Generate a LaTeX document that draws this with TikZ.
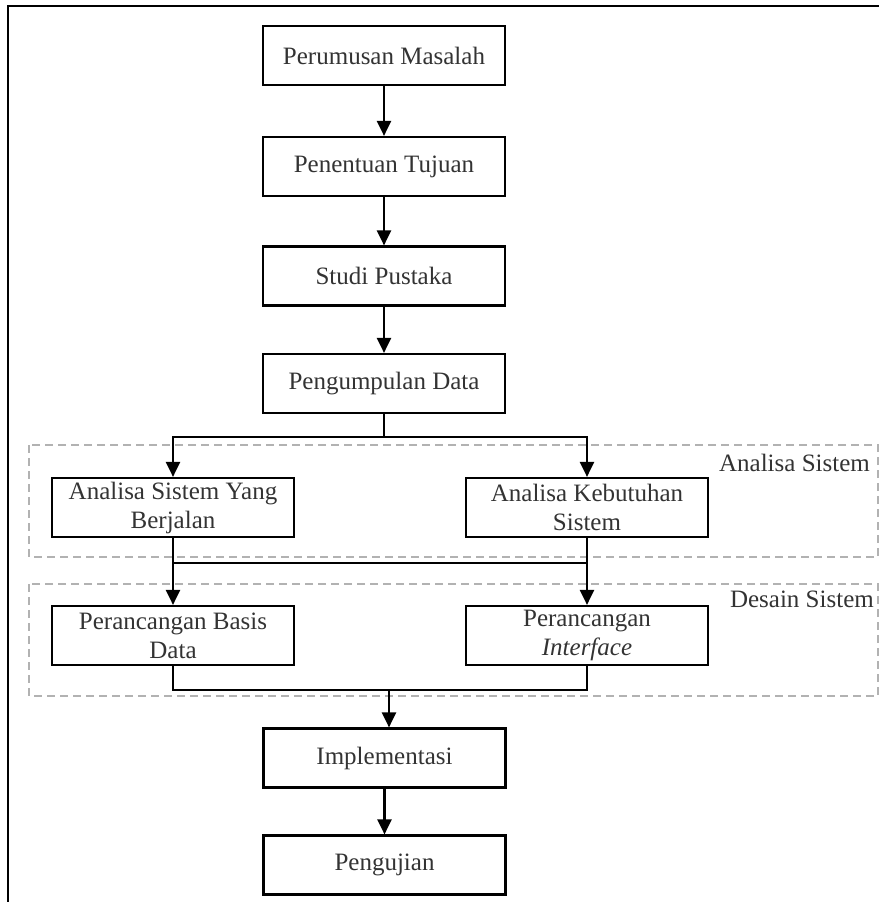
\documentclass[tikz,border=0pt]{standalone}
\usepackage{fontspec}
\setmainfont{Liberation Serif}
\usetikzlibrary{arrows.meta}
\begin{document}
\begin{tikzpicture}[x=1pt,y=-1pt,
  proses/.style={draw,line width=2.2pt,minimum width=242pt,minimum height=59pt,inner sep=0pt,align=center,text=black!80,font=\fontsize{25}{29}\selectfont},
  tahap/.style={draw=black!30,line width=1.5pt,dash pattern=on 8pt off 5pt},
  label/.style={anchor=east,inner sep=0pt,text=black!80,font=\fontsize{25}{29}\selectfont},
  garis/.style={line width=2.2pt},
  panah/.style={line width=2.2pt,-{Triangle[length=15pt,width=14pt]}}]
\useasboundingbox (0,0) rectangle (879,902);
% bingkai luar
\draw[line width=2.5pt](8,902)--(8,6)--(879,6);
% kelompok tahap
\draw[tahap](29,445) rectangle (878,557);
\draw[tahap](29,584) rectangle (878,696);
\node[label](lbAnalisa) at (870,463){Analisa Sistem};
\node[label](lbDesain) at (874,599){Desain Sistem};
% proses
\node[proses](rumus) at (384,55.5){Perumusan Masalah};
\node[proses](tujuan) at (384,166.5){Penentuan Tujuan};
\node[proses](studi) at (384,276){Studi Pustaka};
\node[proses](kumpul) at (384,383.5){Pengumpulan Data};
\node[proses](asb) at (173,507.5){Analisa Sistem Yang\\Berjalan};
\node[proses](akb) at (587,507.5){Analisa Kebutuhan\\Sistem};
\node[proses](pbd) at (173,635.5){Perancangan Basis\\Data};
\node[proses](pif) at (587,635.5){Perancangan\\\textit{Interface}};
\node[proses](imp) at (384.5,758){Implementasi};
\node[proses](uji) at (384.5,865){Pengujian};
\coordinate(gabA) at (0,563);
\coordinate(gabB) at (389,690);
% alur
\draw[panah](rumus)--(tujuan);
\draw[panah](tujuan)--(studi);
\draw[panah](studi)--(kumpul);
\draw[garis](kumpul.south)--++(0,23)coordinate(bagi);
\draw[panah](bagi)-|(asb.north);
\draw[panah](bagi)-|(akb.north);
\draw[panah](asb)--(pbd);
\draw[panah](akb)--(pif);
\draw[garis](gabA-|asb.south)--(gabA-|akb.south);
\draw[garis](pbd.south)|-(gabB-|pif.south)--(pif.south);
\draw[panah](gabB)--(gabB|-imp.north);
\draw[panah](imp)--(uji);
\end{tikzpicture}
\end{document}
